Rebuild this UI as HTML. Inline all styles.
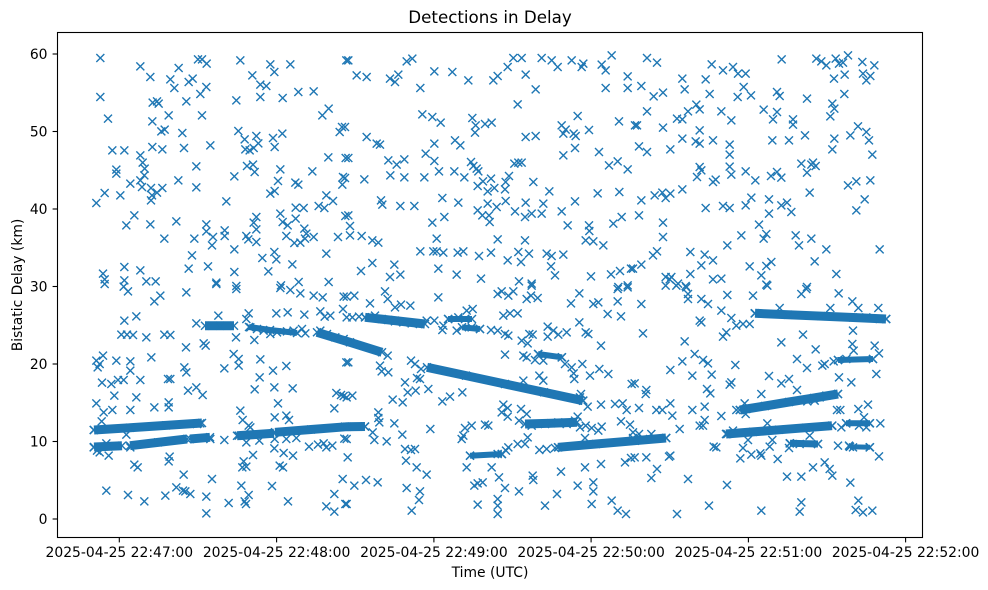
<!DOCTYPE html>
<html><head><meta charset="utf-8"><style>
html,body{margin:0;padding:0;background:#fff;}
svg{display:block;}
.t{font-family:"DejaVu Sans","Liberation Sans",sans-serif;fill:#000;}
.p{fill:none;stroke:none;marker-start:url(#m);marker-mid:url(#m);marker-end:url(#m);}
.tr{fill:none;stroke:#1f77b4;stroke-width:9;marker-start:url(#m2);marker-mid:url(#m2);marker-end:url(#m2);}
</style></head><body>
<svg width="988" height="590" viewBox="0 0 988 590" xmlns="http://www.w3.org/2000/svg">
<defs>
<marker id="m" markerUnits="userSpaceOnUse" viewBox="-15 -15 30 30" markerWidth="30" markerHeight="30" refX="0" refY="0" overflow="visible"><path d="M-12-12L12 12M12-12L-12 12" stroke="#1f77b4" stroke-width="4.2" fill="none"/></marker>
<marker id="m2" markerUnits="userSpaceOnUse" viewBox="-5 -5 10 10" markerWidth="10" markerHeight="10" refX="0" refY="0" overflow="visible"><path d="M-4-4L4 4M4-4L-4 4" stroke="#1f77b4" stroke-width="1.4" fill="none"/></marker>
<clipPath id="ax"><rect x="57.5" y="32.5" width="865" height="505"/></clipPath>
</defs>
<rect width="988" height="590" fill="#fff"/>
<text class="t" x="490" y="23" font-size="16.7" text-anchor="middle">Detections in Delay</text>
<g clip-path="url(#ax)">
<!-- tracks -->
<polyline class="tr" points="94,430 130,427.8 166,425.4 202,423"/>
<polyline class="tr" points="94,447 108,446.4 122,445.7"/>
<polyline class="tr" points="130,445.7 158,442.4 187,439"/>
<polyline class="tr" points="190,439 210,437.3"/>
<polyline class="tr" points="237,435.7 256,434.5 274,433.3"/>
<polyline class="tr" points="275,432.3 311,429.5 347,426.7 365,426.5"/>
<polyline class="tr" points="205,325.7 220,325.7 234,325.7"/>
<polyline class="tr" style="stroke-width:6" points="249,327 270,330 297,333"/>
<polyline class="tr" points="317,332.3 350,342.3 382,352.3"/>
<polyline class="tr" points="365,317.3 395,320.6 425,324"/>
<polyline class="tr" style="stroke-width:6" points="448,319 472,319"/>
<polyline class="tr" style="stroke-width:6" points="462,327.3 480,329"/>
<polyline class="tr" points="427,367.3 466,375.6 505,384 544,392.3 583,400.7"/>
<polyline class="tr" points="525,424 551,423.2 577,422.3"/>
<polyline class="tr" points="558,447.3 596,444 635,440.7 666,438"/>
<polyline class="tr" style="stroke-width:6" points="470,455.7 502,454"/>
<polyline class="tr" style="stroke-width:6" points="538,354 562,357.3"/>
<polyline class="tr" points="755,313.3 788,314.7 821,316.1 853,317.5 886,319"/>
<polyline class="tr" style="stroke-width:6" points="838,360 873,359"/>
<polyline class="tr" points="740,410 765,406 789,402 814,398 838,394"/>
<polyline class="tr" points="726,434 753,431.9 779,429.8 806,427.7 832,425.7"/>
<polyline class="tr" style="stroke-width:7" points="790,443.3 818,444"/>
<polyline class="tr" style="stroke-width:6" points="846,423.3 870,423.3"/>
<polyline class="tr" style="stroke-width:5" points="850,446.7 870,447.3"/>
<!-- zoom 4 region -->
<g transform="translate(57 32) scale(0.33333)">
<polyline class="p" points="130,78 250,103 280,135 365,108 340,142 352,168 395,150 407,140 423,82 435,82 449,95 448,165 430,186 388,208 435,250 335,250 286,268 287,212 300,208 305,215 130,195 153,260 313,298 323,293 376,303 286,345 316,352 381,348 460,340 166,355 202,355 250,370 257,392 263,410 262,430 250,445 255,465 220,455 178,413 178,425 143,483 118,513 190,490 282,468 285,490 282,505 300,482 316,468 364,445 418,403 418,466 508,508 232,550 208,580 280,577 358,568 322,620 412,620 448,577 448,598 468,615 465,640 503,595 503,612 532,652 405,670 395,710 453,703 532,720 478,752 250,715 202,705 202,745 138,725 143,742 268,748 296,748 550,85 640,97 652,120 700,97 586,130 610,158 628,162 610,195 677,198 538,205 724,180 770,178 796,250 815,230 855,285 848,300 868,85 544,297 563,322 598,312 565,352 578,355 590,348 604,334 648,318 676,305 653,345 570,402 588,398 593,420 532,433 670,412 766,418 814,376 866,378 715,452 724,458 663,447 640,485 653,477 808,490 828,507 785,522 802,528 716,527 740,528 858,435 856,458 865,552 670,545 677,570 692,580 716,560 598,555 590,572 598,592 568,612 574,622 598,630 688,612 712,633 730,632 742,590 748,605 770,615 744,620 843,615 808,665 652,660 658,682 616,678 706,697 634,718 725,750 815,750 672,760 538,762"/>
</g>
<!-- zoom 5 region -->
<g transform="translate(57 284) scale(0.33333)">
<polyline class="p" points="143,0 200,8 213,22 292,52 310,35 388,25 478,0 538,15 670,12 700,18 730,28 770,35 797,40 860,38 202,110 238,97 418,118 484,95 575,88 568,105 658,88 692,85 742,92 790,82 803,98 820,95 858,75 193,152 210,152 228,153 268,160 322,152 340,153 387,190 440,178 446,185 537,160 592,168 283,220 118,230 128,240 122,250 138,215 178,230 220,232 220,260 530,210 545,225 545,245 502,253 610,226 648,260 688,246 868,235 608,280 135,296 163,300 183,288 200,288 250,288 333,285 340,285 382,250 388,265 393,320 418,310 437,333 172,335 238,340 118,358 140,385 166,378 220,378 292,370 335,355 335,370 134,412 208,452 593,316 652,310 707,313 663,358 653,400 688,395 696,408 550,380 557,408 832,373 838,327 852,333 860,336 502,468 545,455 568,475 607,470 653,465 688,465 718,462 756,488 783,482 800,478 808,490 826,485 862,464 148,478 155,515 128,505 232,542 242,550 338,518 335,532 380,572 465,585 560,532 588,513 556,550 568,548 553,605 575,633 563,652 567,660 645,606 652,493 680,507 708,515 668,545 678,550 857,585 832,630 808,667 832,683 865,660 148,620 213,633 262,652 325,635 358,610 378,620 385,622 400,630 448,638 448,688 515,657 693,652 110,490 120,500 110,438 430,418 580,130 600,135 620,140 640,150 660,145 690,142 710,140 735,135 745,148 790,140 810,150 835,160 860,165 575,425 580,430 460,465 220,490 420,420"/>
</g>
<!-- zoom 6 region -->
<g transform="translate(345 32) scale(0.33333)">
<polyline class="p" points="10,85 35,130 65,135 135,140 150,150 160,128 185,88 202,80 226,168 268,118 322,120 370,145 445,145 458,132 488,105 505,78 530,78 590,78 620,85 638,105 680,85 710,105 715,95 770,98 782,115 800,70 848,133 848,168 782,168 572,172 542,128 518,217 232,247 262,255 287,272 382,258 392,280 390,302 420,276 440,272 0,285 65,315 95,335 105,338 242,365 268,335 268,387 330,325 346,340 130,385 155,398 178,382 10,378 0,438 58,442 136,430 178,436 238,436 282,418 328,418 358,436 378,390 385,402 395,410 400,418 398,462 414,448 438,440 428,478 448,468 482,450 492,432 480,472 565,450 508,395 520,392 530,392 542,315 572,312 650,280 655,305 662,293 686,305 692,312 698,252 732,294 690,348 655,370 762,360 792,400 818,388 848,412 822,268 870,280 108,505 112,518 166,522 208,522 292,498 340,512 398,535 412,550 432,550 434,570 428,515 455,525 482,507 510,538 542,512 540,555 560,545 590,545 595,515 613,478 650,538 690,508 758,484 823,480 10,550 15,582 15,610 50,612 82,625 100,632 262,572 298,555 275,620 265,658 275,658 295,662 226,658 338,662 355,658 402,672 438,662 458,622 520,660 528,690 552,665 540,625 488,685 605,665 620,672 618,703 630,730 655,668 668,580 732,580 733,597 722,625 745,628 775,640 805,575 830,555 82,693 48,717 135,735 148,698 166,728 280,710 335,728 408,740 522,748 560,755 738,733 798,727 825,717 858,710 848,760 820,765"/>
</g>
<!-- zoom 7 region -->
<g transform="translate(345 284) scale(0.33333)">
<polyline class="p" points="120,22 128,45 28,35 5,38 75,58 150,70 168,62 196,65 280,40 458,30 470,22 490,35 505,22 545,45 558,35 578,42 560,5 678,58 703,28 745,60 760,55 788,90 818,15 848,10 818,52 828,97 475,95 495,88 518,88 5,100 22,100 42,98 245,110 268,110 295,125 292,138 335,140 365,80 383,75 438,138 458,140 480,150 490,155 530,170 548,178 553,150 563,152 608,128 625,140 608,158 640,152 665,145 722,145 730,150 703,115 768,185 480,212 535,215 545,220 570,228 595,230 660,240 680,250 712,240 686,268 688,285 735,275 763,255 790,270 860,300 128,215 105,245 110,262 130,265 198,230 210,240 228,255 180,295 216,282 225,285 188,325 212,320 250,315 173,355 143,347 10,235 5,340 22,335 292,352 315,338 352,325 535,290 583,275 595,290 708,330 728,368 768,362 810,360 833,358 845,378 475,362 488,372 470,385 488,398 528,375 545,390 522,410 430,425 420,422 380,425 360,432 350,465 355,455 100,385 100,402 103,415 83,445 88,468 125,472 148,418 172,452 256,435 5,465 8,520 180,495 198,498 210,495 183,530 215,550 245,572 185,612 225,622 222,648 200,680 28,605 63,588 98,595 5,660 365,550 388,605 398,598 413,595 440,550 462,580 480,612 522,622 563,575 565,588 490,490 518,480 540,480 548,460 458,510 483,500 583,498 605,495 630,492 600,665 636,630 648,563 698,605 720,550 745,595 745,622 740,660 768,540 800,650 818,680 843,690 840,535 858,522 828,412 855,422 720,462 740,432 770,428 760,440 698,398 458,645 458,665 458,690 398,662 705,430 722,425 60,100 90,95 110,105 130,108 150,112 175,115 200,118 225,120 310,105 340,100 360,105 380,130 405,135 540,420 560,425 600,420 640,415 665,420 690,410 715,350 705,340 0,428 60,428 375,515 470,510 640,490 870,470 580,210 650,220"/>
</g>
<!-- zoom 8 region -->
<g transform="translate(633 32) scale(0.33333)">
<polyline class="p" points="42,78 72,92 236,97 270,115 300,105 315,125 338,125 446,82 550,80 565,88 580,100 608,80 618,95 630,92 645,70 688,90 724,100 690,125 712,132 700,145 635,128 603,140 25,162 62,193 90,182 148,140 155,172 218,142 230,186 332,165 314,195 354,190 432,180 440,192 522,200 634,186 598,215 604,230 592,253 42,238 12,280 90,287 132,260 148,262 165,238 190,218 200,232 265,238 295,265 392,233 432,240 420,262 480,262 480,278 516,310 418,325 468,325 604,320 598,352 652,310 675,283 700,300 708,325 718,368 18,343 42,360 112,352 148,320 188,328 200,335 240,325 200,295 290,338 290,368 290,404 295,428 200,405 205,415 192,435 240,450 248,443 338,418 367,445 414,432 432,420 445,437 505,395 535,398 540,392 548,402 522,422 530,482 645,460 670,448 712,445 695,502 670,535 25,505 18,550 65,490 88,482 98,498 112,485 148,472 218,528 270,522 290,528 338,520 355,497 408,502 408,545 445,520 462,512 475,540 378,578 90,572 90,615 325,610 283,640 392,620 400,606 488,610 498,640 535,620 580,652 545,688 610,726 740,652 72,658 60,670 25,698 172,660 215,668 240,685 205,700 172,726 240,742 265,740 350,703 385,730 400,702 415,690 400,758 522,765 98,735 115,735 110,742 135,755 158,762 0,710"/>
</g>
<!-- zoom 9 region -->
<g transform="translate(633 284) scale(0.33333)">
<polyline class="p" points="98,5 130,5 160,10 165,30 165,45 205,45 225,60 283,33 360,35 403,5 505,30 520,15 617,28 658,52 676,72 736,72 592,72 440,72 25,60 30,148 200,110 205,115 265,80 295,102 270,158 280,145 310,125 330,120 350,120 155,172 185,210 210,228 225,238 148,232 112,258 178,275 236,272 307,243 290,302 295,295 222,315 232,328 40,318 38,330 5,298 18,372 70,378 88,378 112,358 118,395 178,378 215,368 215,408 200,425 210,425 265,396 140,435 0,445 18,450 55,450 100,462 40,520 5,520 108,518 112,515 72,555 55,582 165,585 242,488 250,490 282,603 228,665 132,690 335,358 310,378 338,390 385,330 403,418 408,276 445,175 445,298 468,285 492,318 492,225 522,252 510,152 548,196 568,245 575,240 618,280 655,295 660,140 658,180 662,200 725,185 738,208 730,270 602,232 523,352 545,350 612,378 622,378 676,375 705,362 742,418 693,400 700,430 678,425 625,430 615,485 648,485 660,490 738,517 283,450 300,440 345,468 355,512 330,492 322,523 382,508 385,515 410,488 418,468 434,525 468,492 530,455 540,550 575,535 590,555 598,575 462,578 505,578 652,596 676,650 668,678 690,685 718,680 505,655 500,683 385,680 365,88 760,105 700,100 740,105 615,228 640,225 720,225 320,378 340,375 615,330 580,335 560,340 280,450 598,425 0,462 30,465 470,478 500,480 555,480 640,418 710,418 650,488 710,490"/>
</g>
</g>
<!-- axes frame -->
<rect x="57.5" y="32.5" width="865" height="505" fill="none" stroke="#000" stroke-width="1.1"/>
<!-- ticks -->
<g stroke="#000" stroke-width="1.1">
<line x1="52.6" y1="519" x2="57.5" y2="519"/>
<line x1="52.6" y1="441.5" x2="57.5" y2="441.5"/>
<line x1="52.6" y1="364" x2="57.5" y2="364"/>
<line x1="52.6" y1="286.5" x2="57.5" y2="286.5"/>
<line x1="52.6" y1="209" x2="57.5" y2="209"/>
<line x1="52.6" y1="131.5" x2="57.5" y2="131.5"/>
<line x1="52.6" y1="54" x2="57.5" y2="54"/>
<line x1="119.3" y1="537.5" x2="119.3" y2="542.4"/>
<line x1="276.6" y1="537.5" x2="276.6" y2="542.4"/>
<line x1="433.9" y1="537.5" x2="433.9" y2="542.4"/>
<line x1="591.1" y1="537.5" x2="591.1" y2="542.4"/>
<line x1="748.4" y1="537.5" x2="748.4" y2="542.4"/>
<line x1="905.6" y1="537.5" x2="905.6" y2="542.4"/>
</g>
<g class="t" font-size="13.9" text-anchor="end">
<text x="47.5" y="524">0</text>
<text x="47.5" y="446.5">10</text>
<text x="47.5" y="369">20</text>
<text x="47.5" y="291.5">30</text>
<text x="47.5" y="214">40</text>
<text x="47.5" y="136.5">50</text>
<text x="47.5" y="59">60</text>
</g>
<g class="t" font-size="13.9" text-anchor="middle">
<text x="119.3" y="557">2025-04-25 22:47:00</text>
<text x="276.6" y="557">2025-04-25 22:48:00</text>
<text x="433.9" y="557">2025-04-25 22:49:00</text>
<text x="591.1" y="557">2025-04-25 22:50:00</text>
<text x="748.4" y="557">2025-04-25 22:51:00</text>
<text x="905.6" y="557">2025-04-25 22:52:00</text>
<text x="490" y="577">Time (UTC)</text>
</g>
<text class="t" font-size="13.9" text-anchor="middle" transform="translate(22 285) rotate(-90)">Bistatic Delay (km)</text>
</svg>
</body></html>
